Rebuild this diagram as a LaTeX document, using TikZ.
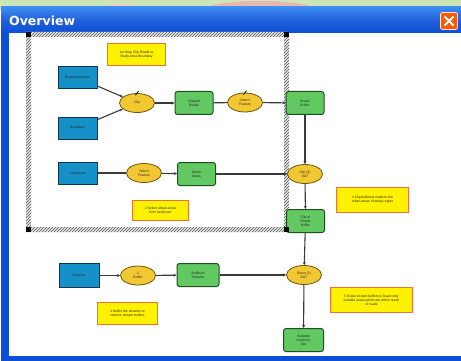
\documentclass[tikz,border=0pt]{standalone}
\usepackage{fontspec}
\setmainfont{Liberation Sans}
\newfontfamily\titlefont{DejaVu Sans}
\usetikzlibrary{patterns,arrows.meta,shapes.geometric}
\definecolor{xpblue}{HTML}{0A4FD6}
\definecolor{xpbluelight}{HTML}{3C8CF2}
\definecolor{datablue}{HTML}{1691C8}
\definecolor{databord}{HTML}{0B3550}
\definecolor{toolgreen}{HTML}{62C862}
\definecolor{greenbord}{HTML}{1E4F1E}
\definecolor{toolyel}{HTML}{F2C832}
\definecolor{yelbord}{HTML}{6A5410}
\definecolor{noteyel}{HTML}{FFF200}
\definecolor{notebord}{HTML}{F07030}
\definecolor{linegray}{HTML}{3A3A3A}
\definecolor{mapgreen}{HTML}{CDE6B8}
\definecolor{mappink}{HTML}{E8B8B0}
\tikzset{
  every node/.style={font=\fontsize{3.4}{3.9}\selectfont, align=center, text=black!85},
  datanode/.style={draw=databord, fill=datablue, line width=0.9pt, minimum width=39pt, minimum height=22pt, inner sep=1pt},
  outnode/.style={draw=greenbord, fill=toolgreen, line width=1pt, rounded corners=2.5pt, minimum width=38pt, minimum height=23pt, inner sep=1pt},
  toolnode/.style={draw=yelbord, fill=toolyel, line width=0.8pt, ellipse, minimum width=35pt, minimum height=19pt, inner sep=0pt},
  notenode/.style={draw=notebord, fill=noteyel, line width=1.4pt, inner sep=1pt},
  conn/.style={draw=linegray, line width=1.1pt, -{Stealth[length=3pt,width=3pt]}},
  plainconn/.style={draw=linegray, line width=1.1pt},
  corner/.style={fill=black, minimum size=5pt, inner sep=0pt},
}
\begin{document}
\begin{tikzpicture}[x=1pt,y=-1pt]
\useasboundingbox (0,0) rectangle (461,361);
% map background strip
\fill[mapgreen] (0,0) rectangle (461,10);
\fill[mappink] (200,10) .. controls (215,-2) and (305,-2) .. (320,10) -- cycle;
\fill[mappink!70!white] (95,10) .. controls (105,2) and (140,2) .. (150,10) -- cycle;
% window frame
\fill[xpblue] (1,7) rectangle (461,361);
\shade[top color=xpbluelight, bottom color=xpblue, middle color=xpblue!90!white] (1,7) rectangle (461,33);
\fill[white] (9,33) rectangle (461,356);
\node[anchor=west, text=white, font=\titlefont\bfseries\fontsize{12.5}{14}\selectfont, inner sep=0pt] (title) at (9,20.5) {Overview};
% close button
\node[draw=white!80!orange, fill=orange!70!red, rounded corners=2pt, minimum width=17pt, minimum height=17pt, inner sep=0pt, line width=0.8pt] (close) at (449,21) {};
\draw[white, line width=1.8pt] ([shift={(-4.5,-4.5)}]close.center) -- ([shift={(4.5,4.5)}]close.center);
\draw[white, line width=1.8pt] ([shift={(-4.5,4.5)}]close.center) -- ([shift={(4.5,-4.5)}]close.center);
% hatched selection band
\fill[gray!20, even odd rule] (26,32) rectangle (289,232) (31,37) rectangle (284,227);
\fill[pattern=north east lines, pattern color=black!65, even odd rule] (26,32) rectangle (289,232) (31,37) rectangle (284,227);
% notes
\node[notenode, minimum width=58pt, minimum height=22pt] (n1) at (136.5,54.5) {1st Step Clip Roads to\\Study Area Boundary};
\node[notenode, minimum width=56pt, minimum height=20pt] (n2) at (160.5,210.5) {2 Select urban areas\\from landcover};
\node[notenode, minimum width=72pt, minimum height=25pt] (n3) at (372.5,200) {3 Clip buffered roads to the\\urban areas of study region};
\node[notenode, minimum width=60pt, minimum height=22pt] (n4) at (127.5,313.5) {4 Buffer the streams to\\remove stream buffers};
\node[notenode, minimum width=82pt, minimum height=25pt] (n5) at (371.5,300) {5 Erase stream buffers to leave only\\suitable areas which are within reach\\of roads};
% row 1
\node[datanode] (roads) at (77.5,77.5) {Roadcenterlines};
\node[datanode] (bound) at (77.5,128) {Boundary};
\node[toolnode] (clip) at (137,103) {Clip};
\node[outnode] (clipped) at (194,103) {Clipped\\Roads};
\node[toolnode] (sel1) at (245,102.5) {Select\\Feature};
\node[outnode] (rbuf) at (305,103) {Roads\\Buffer};
% row 2
\node[datanode] (land) at (78,173) {Landcover};
\node[toolnode] (sel2) at (144,173) {Select\\Feature};
\node[outnode] (urban) at (196.5,174) {Urban\\Areas};
\node[toolnode] (clip2) at (305,174) {Clip (2)\\DAT};
\node[outnode] (clipof) at (305.5,221) {Clip of\\Roads\\Buffer};
% row 3
\node[datanode, minimum width=40pt, minimum height=24pt] (streams) at (79,275.5) {Streams};
\node[toolnode] (buffer) at (138,275.5) {2\\Buffer};
\node[outnode, minimum width=42pt] (sbuf) at (198,275) {Buffered\\Streams};
\node[toolnode] (erase) at (304,275) {Erase (2)\\DAT};
\node[outnode, minimum width=40pt] (suit) at (303.5,340) {Suitable\\Areas for\\Site};
% corner handles
\node[corner] (c1) at (28.5,34.5) {};
\node[corner] (c2) at (286.5,34.5) {};
\node[corner] (c3) at (28.5,229.5) {};
\node[corner] (c4) at (286.5,229.5) {};
% tool icons
\foreach \t in {clip,sel1}{
  \draw[black, line width=0.8pt] ([shift={(-1.5,2)}]\t.north) -- ([shift={(1.5,-2)}]\t.north);
}
% connectors
\draw[conn] (roads) -- (clip);
\draw[conn] (bound) -- (clip);
\draw[conn] (clip) -- (clipped);
\draw[plainconn] (clipped) -- (sel1);
\draw[conn] (sel1) -- (rbuf);
\draw[conn] (rbuf) -- (clip2);
\draw[plainconn] (land) -- (sel2);
\draw[conn] (sel2) -- (urban);
\draw[conn] (urban) -- (clip2);
\draw[conn] (clip2) -- (clipof);
\draw[conn] (clipof) -- (erase);
\draw[conn] (streams) -- (buffer);
\draw[conn] (buffer) -- (sbuf);
\draw[conn] (sbuf) -- (erase);
\draw[conn] (erase) -- (suit);
\end{tikzpicture}
\end{document}
